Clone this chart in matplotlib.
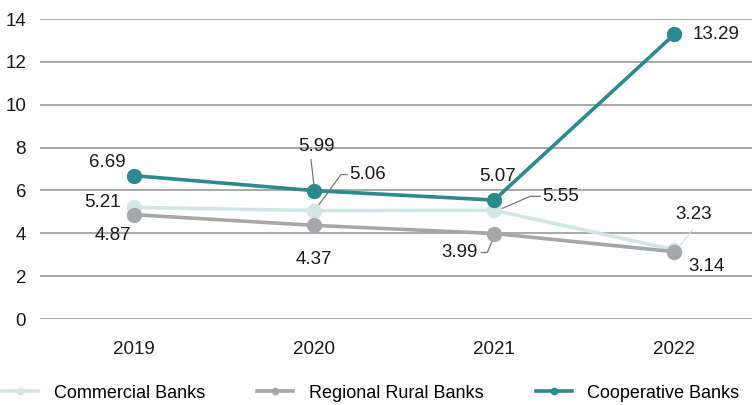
import matplotlib
matplotlib.use("Agg")
import matplotlib.pyplot as plt

plt.rcParams["font.family"] = ["Liberation Sans", "DejaVu Sans"]

# --- data ---
years = ["2019", "2020", "2021", "2022"]
commercial = [5.21, 5.06, 5.07, 3.23]
rrb = [4.87, 4.37, 3.99, 3.14]
coop = [6.69, 5.99, 5.55, 13.29]
# label texts as printed on the original chart
commercial_labels = ["5.21", "5.06", "5.55", "3.23"]
rrb_labels = ["4.87", "4.37", "3.99", "3.14"]
coop_labels = ["6.69", "5.99", "5.07", "13.29"]

C_COM = "#d3e6e6"
C_RRB = "#a7a7aa"
C_COOP = "#2b8a8f"
GRID = "#a3a3a3"

fig = plt.figure(figsize=(7.52, 4.05), dpi=100)
ax = fig.add_axes([40 / 752, 86 / 405, 712 / 752, 300 / 405])

x = list(range(len(years)))
ax.plot(x, commercial, color=C_COM, lw=2.6, marker="o", ms=10, label="Commercial Banks", zorder=3)
ax.plot(x, rrb, color=C_RRB, lw=2.6, marker="o", ms=10, label="Regional Rural Banks", zorder=4)
ax.plot(x, coop, color=C_COOP, lw=2.6, marker="o", ms=10, label="Cooperative Banks", zorder=5)

ax.set_ylim(0, 14)
ax.set_xlim(-0.52, 3.43)
ax.set_yticks(range(0, 15, 2))
ax.set_xticks(x)
ax.set_xticklabels(years)
for s in ax.spines.values():
    s.set_visible(False)
ax.yaxis.grid(True, color=GRID, lw=1.3)
ax.set_axisbelow(True)
ax.tick_params(length=0, labelsize=13.5, colors="#1a1a1a")
ax.tick_params(axis="y", pad=10)
ax.tick_params(axis="x", pad=16)

fs = 13.5
def lab(txt, xi, yi, dx, dy, ha="center", leader=None, lc="#777777"):
    # dx, dy in pixels from the data point; leader: list of pixel offsets
    ax.annotate(txt, (xi, yi), xytext=(dx, dy), textcoords="offset pixels",
                ha=ha, va="center", fontsize=fs, color="#1a1a1a", zorder=6)
    if leader:
        xs, ys = zip(*leader)
        p0 = ax.transData.transform((xi, yi))
        line_x = [p0[0] + u for u in xs]
        line_y = [p0[1] + v for v in ys]
        inv = ax.transData.inverted()
        dpts = inv.transform(list(zip(line_x, line_y)))
        ax.plot(dpts[:, 0], dpts[:, 1], color=lc, lw=0.9, zorder=2.5, clip_on=False)

# cooperative
lab(coop_labels[0], 0, coop[0], -26, 13)
lab(coop_labels[1], 1, coop[1], 2, 44, leader=[(-3, 31), (0, 5)])
lab(coop_labels[2], 2, coop[2], 3, 24)
lab(coop_labels[3], 3, coop[3], 18, 0, ha="left")
# commercial
lab(commercial_labels[0], 0, commercial[0], -31, 5)
lab(commercial_labels[1], 1, commercial[1], 35, 36, ha="left", leader=[(33, 36), (27, 36), (5, 6)])
lab(commercial_labels[2], 2, commercial[2], 48, 14, ha="left", leader=[(46, 14), (36, 14), (8, 2)])
lab(commercial_labels[3], 3, commercial[3], 19, 35, leader=[(18, 20), (6, 5)], lc="#cfe3e3")
# regional rural
lab(rrb_labels[0], 0, rrb[0], -21, -21)
lab(rrb_labels[1], 1, rrb[1], 0, -34)
lab(rrb_labels[2], 2, rrb[2], -35, -19, leader=[(-13, -19), (-7, -19), (-1, -5)])
lab(rrb_labels[3], 3, rrb[3], 32, -15)

fig.legend(loc="lower center", bbox_to_anchor=(0.493, 0.008), ncol=3, frameon=False,
           fontsize=13, handlelength=2.0, columnspacing=2.9, handletextpad=0.85,
           borderpad=0, borderaxespad=0, markerscale=0.45)

fig.savefig("out.png", dpi=100)
